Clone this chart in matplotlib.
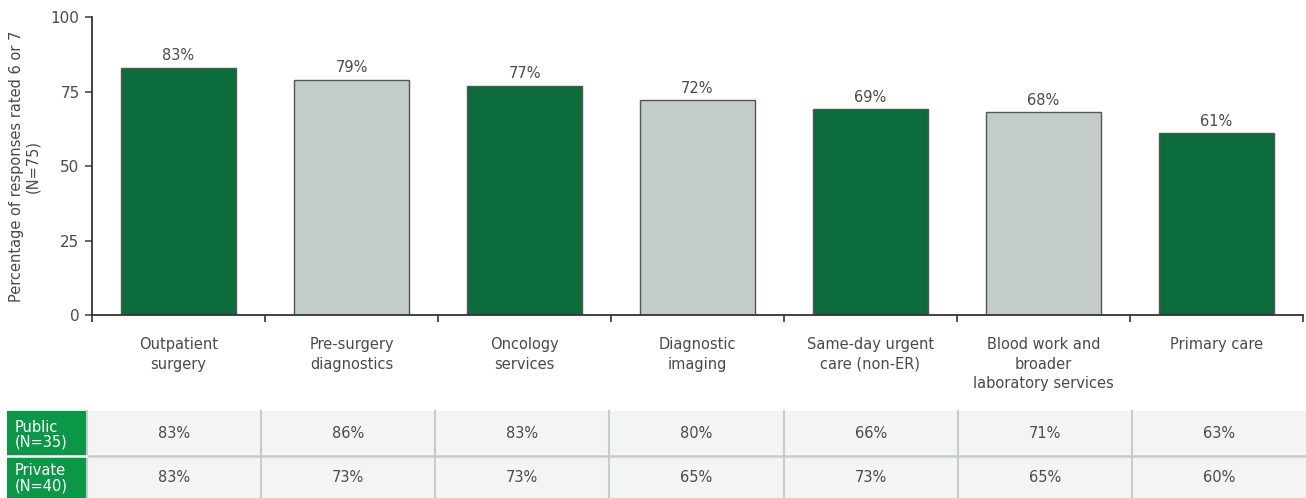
import numpy as np
import matplotlib.pyplot as plt
from matplotlib.patches import Rectangle

plt.rcParams['font.family'] = ['DejaVu Sans']

categories = ["Outpatient\nsurgery", "Pre-surgery\ndiagnostics", "Oncology\nservices",
              "Diagnostic\nimaging", "Same-day urgent\ncare (non-ER)",
              "Blood work and\nbroader\nlaboratory services", "Primary care"]
overall = [83, 79, 77, 72, 69, 68, 61]
public = [83, 86, 83, 80, 66, 71, 63]
private = [83, 73, 73, 65, 73, 65, 60]
row_labels = ["Public\n(N=35)", "Private\n(N=40)"]

DARK = "#0b6b3a"
LIGHT = "#c3ccc9"
TEXT = "#4a4a4a"
HEAD = "#0c9647"
CELL = "#f3f5f4"
GRID = "#c5ccca"

W, H = 1306, 498
fig = plt.figure(figsize=(W / 100, H / 100), dpi=100)

# main bar chart
ax = fig.add_axes([92 / W, 1 - 315 / H, 1211 / W, 298 / H])
x = np.arange(len(categories))
colors = [DARK if i % 2 == 0 else LIGHT for i in x]
bars = ax.bar(x, overall, width=0.67, color=colors, edgecolor="#555555", linewidth=1.0)
for b, v in zip(bars, overall):
    ax.text(b.get_x() + b.get_width() / 2, v + 1.5, f"{v}%", ha="center", va="bottom",
            fontsize=10.5, color=TEXT)

ax.set_xlim(-0.5, len(categories) - 0.5)
ax.set_ylim(0, 100)
ax.set_yticks([0, 25, 50, 75, 100])
ax.set_xticks(np.arange(len(categories) + 1) - 0.5)
ax.set_xticklabels([])
ax.tick_params(axis="y", colors=TEXT, labelsize=11, length=5, width=1.2, pad=4)
ax.tick_params(axis="x", colors="#333333", length=5, width=1.2)
for s in ["top", "right"]:
    ax.spines[s].set_visible(False)
for s in ["left", "bottom"]:
    ax.spines[s].set_color("#333333")
    ax.spines[s].set_linewidth(1.3)
ax.set_ylabel("Percentage of responses rated 6 or 7\n(N=75)", fontsize=10.5, color=TEXT,
              linespacing=1.1)
ax.yaxis.set_label_coords(-0.043, 0.5)

for i, lab in enumerate(categories):
    ax.text(i, -7.5, lab, ha="center", va="top", fontsize=10.5, color=TEXT, linespacing=1.35)

# breakdown table below the chart
tx = fig.add_axes([0, 0, 1, 1], zorder=-1)
tx.set_xlim(0, W)
tx.set_ylim(H, 0)
tx.axis("off")

col_left = 87
col_w = (W - col_left) / len(categories)
top, mid = 411, 456
tx.add_patch(Rectangle((col_left, top), W - col_left, H - top, facecolor=CELL, edgecolor="none"))
tx.plot([col_left, W], [mid, mid], color=GRID, lw=1.8)
for c in range(len(categories)):
    xc = col_left + c * col_w
    tx.plot([xc, xc], [top, H], color=GRID, lw=1.5)

rows = [public, private]
bounds = [(top, mid), (mid, H)]
for lab, vals, (y0, y1) in zip(row_labels, rows, bounds):
    tx.add_patch(Rectangle((7, y0), col_left - 8, y1 - y0, facecolor=HEAD, edgecolor="none"))
    tx.text(15, (y0 + y1) / 2 + 1, lab, ha="left", va="center", color="white",
            fontsize=10.5, linespacing=1.0)
    for c, v in enumerate(vals):
        tx.text(col_left + (c + 0.5) * col_w, (y0 + y1) / 2, f"{v}%", ha="center",
                va="center", color=TEXT, fontsize=10.5)
tx.plot([7, col_left - 1], [mid, mid], color="white", lw=1.8)

fig.savefig("out.png", dpi=100)
